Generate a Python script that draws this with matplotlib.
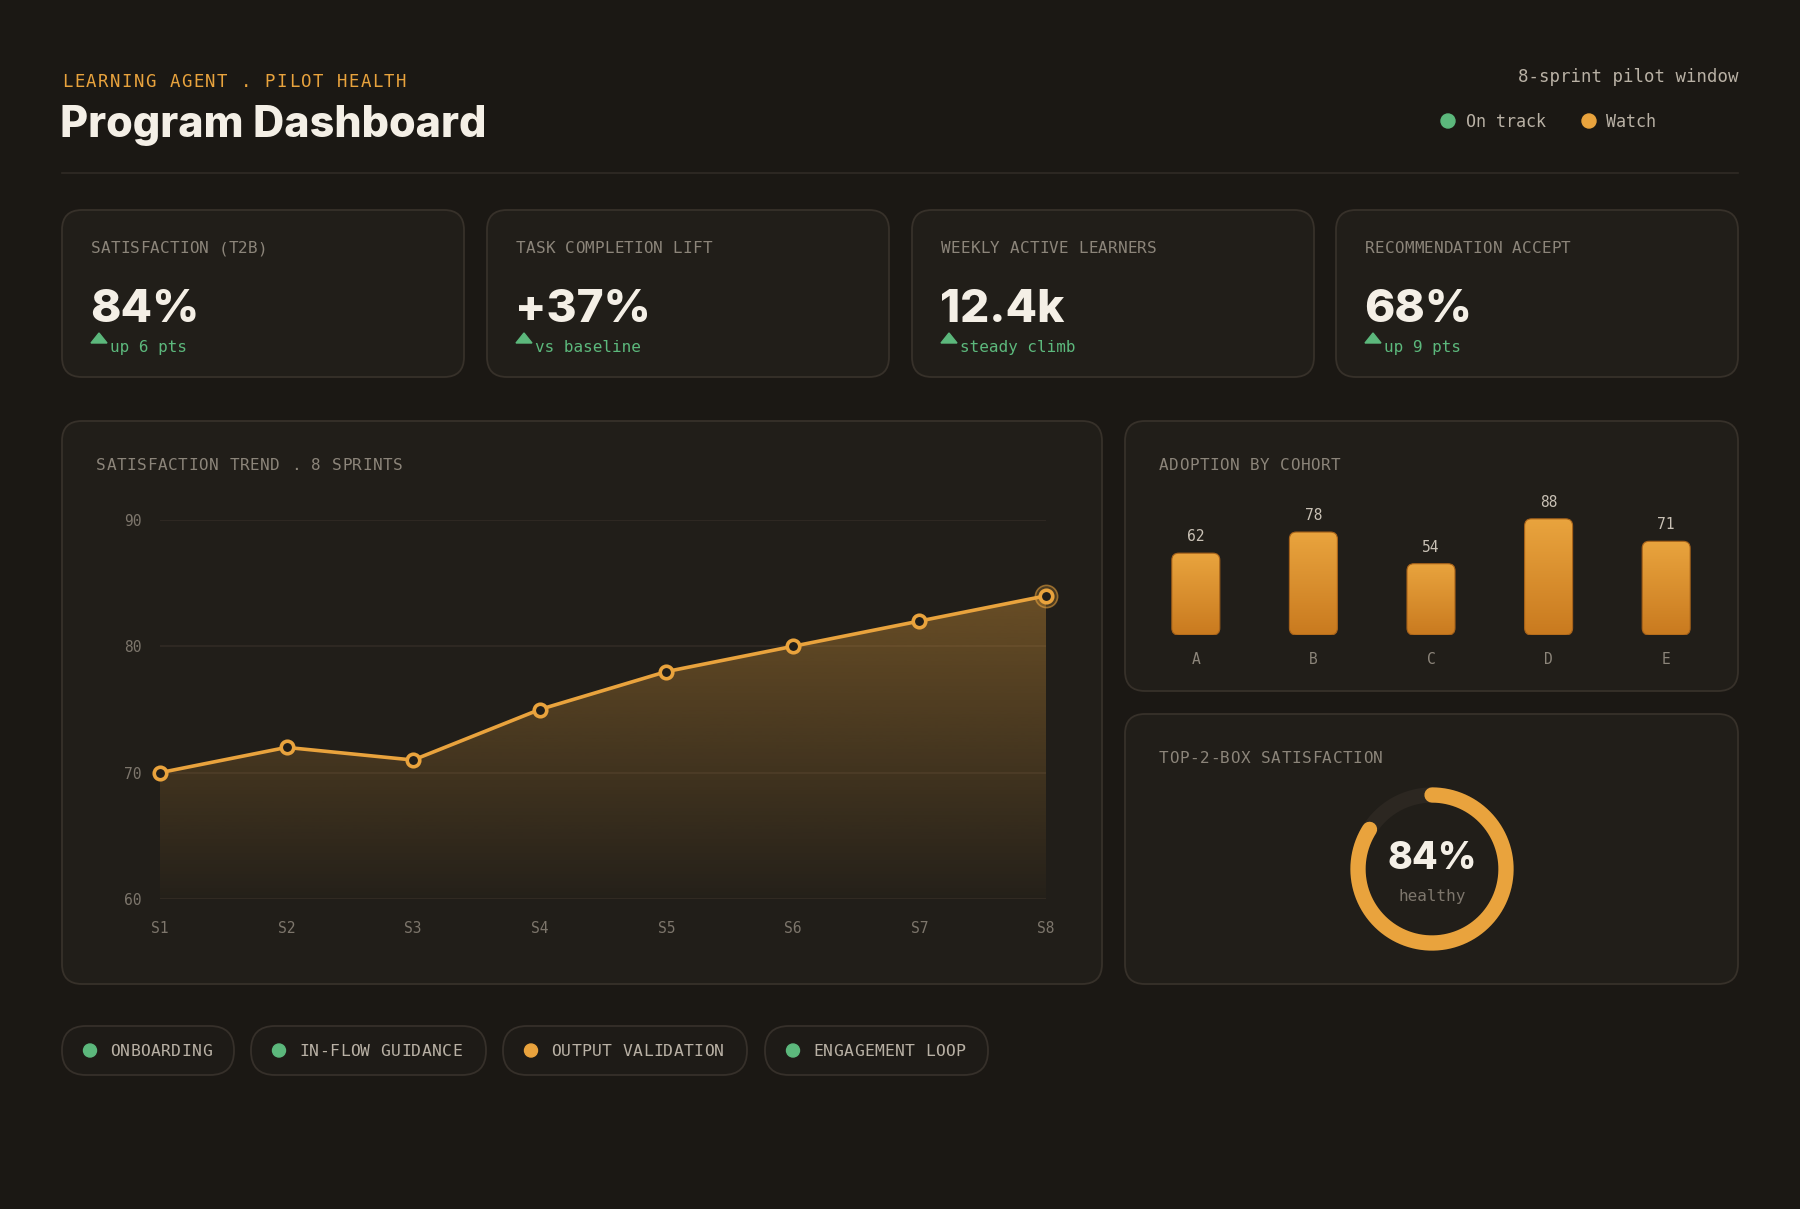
import numpy as np
import matplotlib
matplotlib.use("Agg")
import matplotlib.pyplot as plt
from matplotlib.patches import FancyBboxPatch, Polygon, Circle
from matplotlib.colors import LinearSegmentedColormap, to_rgba

# ---------------- data ----------------
kpi_labels = ["SATISFACTION (T2B)", "TASK COMPLETION LIFT", "WEEKLY ACTIVE LEARNERS", "RECOMMENDATION ACCEPT"]
kpi_values = ["84%", "+37%", "12.4k", "68%"]
kpi_notes = ["up 6 pts", "vs baseline", "steady climb", "up 9 pts"]

sprints = ["S1", "S2", "S3", "S4", "S5", "S6", "S7", "S8"]
satisfaction = [70, 72, 71, 75, 78, 80, 82, 84]
trend_ticks = [60, 70, 80, 90]

cohorts = ["A", "B", "C", "D", "E"]
adoption = [62, 78, 54, 88, 71]

t2b_value = 84

pill_labels = ["ONBOARDING", "IN-FLOW GUIDANCE", "OUTPUT VALIDATION", "ENGAGEMENT LOOP"]
pill_status = ["on", "on", "watch", "on"]

# ---------------- style ----------------
W, H = 1800, 1209
BG = "#1b1814"
CARD = "#211e19"
BORDER = "#37312a"
ORANGE = "#e9a33d"
GREEN = "#5cb87c"
WHITE = "#f4efe6"
GREY = "#8c857a"
LGREY = "#b9b1a5"
MONO = "DejaVu Sans Mono"
SANS = "Inter"

fig = plt.figure(figsize=(W / 100, H / 100), dpi=100, facecolor=BG)
bg = fig.add_axes([0, 0, 1, 1], zorder=0)
bg.set_xlim(0, W)
bg.set_ylim(H, 0)
bg.axis("off")
bg.set_facecolor(BG)


def px_axes(x0, y0, x1, y1, z=2):
    ax = fig.add_axes([x0 / W, 1 - y1 / H, (x1 - x0) / W, (y1 - y0) / H], zorder=z)
    ax.patch.set_alpha(0)
    return ax


def card(x0, y0, x1, y1, r=20, fc=CARD, ec=BORDER, lw=1.3):
    p = FancyBboxPatch((x0, y0), x1 - x0, y1 - y0,
                       boxstyle=f"round,pad=0,rounding_size={r}",
                       fc=fc, ec=ec, lw=lw, zorder=1)
    bg.add_patch(p)


def tracked(x, y, s, adv, color, size, va="baseline"):
    """Monospace text with letter spacing: one glyph per fixed advance (px)."""
    for k, ch in enumerate(s):
        if ch != " ":
            bg.text(x + k * adv, y, ch, color=color, fontsize=size, family=MONO,
                    va=va, ha="left", zorder=3)


# ---------------- header ----------------
tracked(62, 87, "LEARNING AGENT . PILOT HEALTH", 11.93, ORANGE, 12.5)
bg.text(60, 137, "Program Dashboard", color=WHITE, fontsize=31, family=SANS,
        weight="heavy", va="baseline", ha="left")
bg.text(1738, 82, "8-sprint pilot window", color=LGREY, fontsize=12.5,
        family=MONO, va="baseline", ha="right")
bg.add_patch(Circle((1448, 121), 7, color=GREEN, zorder=2))
bg.text(1466, 127, "On track", color=LGREY, fontsize=12, family=MONO, va="baseline")
bg.add_patch(Circle((1589, 121), 7, color=ORANGE, zorder=2))
bg.text(1606, 127, "Watch", color=LGREY, fontsize=12, family=MONO, va="baseline")
bg.plot([62, 1738], [173, 173], color="#302b25", lw=1.2, zorder=1)

# ---------------- KPI cards ----------------
kpi_x = [62, 487, 912, 1336]
kpi_w = 402
for i, (lab, val, note) in enumerate(zip(kpi_labels, kpi_values, kpi_notes)):
    x0 = kpi_x[i]
    card(x0, 210, x0 + kpi_w, 377)
    tracked(x0 + 29, 253, lab, 9.8, GREY, 11.5)
    bg.text(x0 + 28, 322, val, color=WHITE, fontsize=33, family=SANS, weight="heavy",
            va="baseline")
    bg.add_patch(Polygon([(x0 + 29, 343), (x0 + 45, 343), (x0 + 37, 333)],
                         closed=True, color=GREEN, zorder=2))
    bg.text(x0 + 48, 352, note, color=GREEN, fontsize=11.5, family=MONO, va="baseline")

# ---------------- line chart card ----------------
card(62, 421, 1102, 984)
tracked(96, 470, "SATISFACTION TREND . 8 SPRINTS", 10.25, GREY, 11.5)

ax = px_axes(160, 520, 1046, 899)
x = np.arange(len(sprints))
ax.set_xlim(0, len(sprints) - 1)
ax.set_ylim(trend_ticks[0], trend_ticks[-1])
for t in trend_ticks:
    ax.axhline(t, color="#322c25", lw=1.1, zorder=0)
for s in ax.spines.values():
    s.set_visible(False)
ax.set_xticks(x)
ax.set_xticklabels(sprints)
ax.set_yticks(trend_ticks)
ax.tick_params(length=0, colors="#7d766c", labelsize=10.5)
ax.tick_params(axis="y", pad=13)
ax.tick_params(axis="x", pad=15.5)
for lbl in ax.get_xticklabels() + ax.get_yticklabels():
    lbl.set_family(MONO)

poly = ax.fill_between(x, satisfaction, trend_ticks[0], color="none", lw=0)
grad = np.linspace(0, 1, 256).reshape(-1, 1)
oc = to_rgba(ORANGE)
cmap = LinearSegmentedColormap.from_list(
    "fillg", [(oc[0], oc[1], oc[2], 0.02), (oc[0], oc[1], oc[2], 0.36)])
im = ax.imshow(grad, cmap=cmap, aspect="auto", origin="lower",
               extent=(0, len(sprints) - 1, trend_ticks[0], max(satisfaction)),
               zorder=1, interpolation="bicubic")
im.set_clip_path(poly.get_paths()[0], transform=ax.transData)
ax.set_xlim(0, len(sprints) - 1)
ax.set_ylim(trend_ticks[0], trend_ticks[-1])

ax.plot(x, satisfaction, color=ORANGE, lw=2.6, zorder=3, clip_on=False)
ax.plot(x[-1], satisfaction[-1], "o", ms=16, mfc=(oc[0], oc[1], oc[2], 0.22),
        mec=(oc[0], oc[1], oc[2], 0.55), mew=1.2, zorder=3, clip_on=False)
ax.plot(x, satisfaction, "o", ms=9, mfc=CARD, mec=ORANGE, mew=2.6, zorder=4,
        clip_on=False)

# ---------------- bar chart card ----------------
card(1125, 421, 1738, 691)
tracked(1159, 470, "ADOPTION BY COHORT", 10.1, GREY, 11.5)

bx0, bx1, by0, by1 = 1137, 1725, 503, 635
axb = px_axes(bx0, by0, bx1, by1)
axb.set_xlim(-0.5, len(cohorts) - 0.5)
axb.set_ylim(0, 100)
for s in axb.spines.values():
    s.set_visible(False)
axb.set_yticks([])
axb.set_xticks(range(len(cohorts)))
axb.set_xticklabels(cohorts)
axb.tick_params(length=0, colors="#8c857a", labelsize=10.5, pad=12)
for lbl in axb.get_xticklabels():
    lbl.set_family(MONO)

px_per_x = (bx1 - bx0) / len(cohorts)
px_per_y = (by1 - by0) / 100
bar_w = 48 / px_per_x
rad = 7 / px_per_x
bcmap = LinearSegmentedColormap.from_list("barg", ["#c97a1f", "#e9a43e"])
for i, v in enumerate(adoption):
    p = FancyBboxPatch((i - bar_w / 2, 0), bar_w, v,
                       boxstyle=f"round,pad=0,rounding_size={rad}",
                       mutation_aspect=px_per_x / px_per_y,
                       fc="none", ec="#a8631a", lw=0.8, zorder=3)
    axb.add_patch(p)
    bim = axb.imshow(grad, cmap=bcmap, aspect="auto", origin="lower",
                     extent=(i - bar_w / 2, i + bar_w / 2, 0, v), zorder=2)
    bim.set_clip_path(p)
    axb.text(i, v + 9 / px_per_y, str(v), ha="center", va="bottom", color="#c9c1b5",
             fontsize=10.5, family=MONO, zorder=4)
axb.set_xlim(-0.5, len(cohorts) - 0.5)
axb.set_ylim(0, 100)

# ---------------- donut card ----------------
card(1125, 714, 1738, 984)
tracked(1159, 763, "TOP-2-BOX SATISFACTION", 10.2, GREY, 11.5)
cx, cy, r = 1432, 869, 74
th = np.linspace(0, 2 * np.pi, 400)
bg.plot(cx + r * np.sin(th), cy - r * np.cos(th), color="#2c2721", lw=11,
        zorder=2, solid_capstyle="round")
th2 = np.linspace(0, 2 * np.pi * t2b_value / 100, 400)
bg.plot(cx + r * np.sin(th2), cy - r * np.cos(th2), color=ORANGE, lw=11,
        zorder=3, solid_capstyle="round")
bg.text(cx, 859, f"{t2b_value}%", color=WHITE, fontsize=27, family=SANS,
        weight="heavy", ha="center", va="center", zorder=4)
bg.text(cx, 897, "healthy", color="#7d766c", fontsize=11.5, family=MONO,
        ha="center", va="center", zorder=4)

# ---------------- pills ----------------
pill_x = [(62, 234), (251, 486), (503, 747), (765, 988)]
for (x0, x1), lab, st in zip(pill_x, pill_labels, pill_status):
    card(x0, 1026, x1, 1075, r=24, fc="#1e1b17", ec="#36302a", lw=1.3)
    bg.add_patch(Circle((x0 + 28, 1050.5), 6.5, color=GREEN if st == "on" else ORANGE,
                        zorder=2))
    tracked(x0 + 48, 1051, lab, 10.2, LGREY, 11.8, va="center")

fig.savefig("out.png", dpi=100, facecolor=BG)
